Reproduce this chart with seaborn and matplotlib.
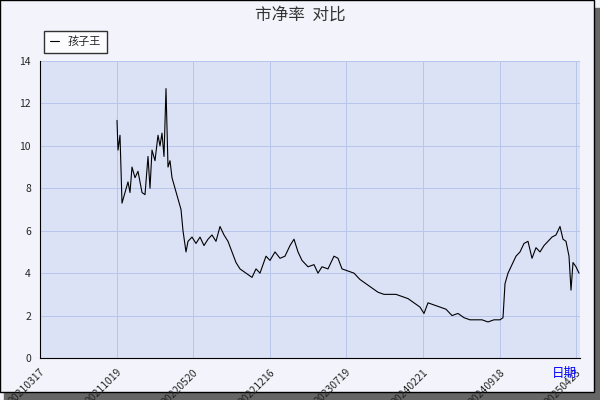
import matplotlib
matplotlib.use("Agg")
import matplotlib.pyplot as plt
import seaborn as sns
import pandas as pd
from matplotlib.patches import Rectangle

tick_labels = ["20210317","20211019","20220520","20221216","20230719","20240221","20240918","20250423"]
tick_days = [0,154,306,460,612,766,920,1072]
px = [117,118,120,122,125,128,130,132,135,138,142,145,148,150,152,155,158,160,162,164,166,168,170,172,175,178,181,183,186,188,192,196,200,204,208,212,216,220,224,228,232,236,240,246,252,256,260,266,270,275,280,285,290,294,298,302,308,314,318,322,328,334,338,342,348,354,360,366,372,378,384,390,396,402,408,414,420,424,428,434,440,446,452,458,464,470,476,482,488,494,500,503,505,508,512,516,520,524,528,532,536,540,544,548,552,556,560,563,566,569,571,573,576,579]
days = [2*(p-40) for p in px]
pb = [11.2,9.8,10.5,7.3,7.8,8.3,7.8,9.0,8.5,8.8,7.8,7.7,9.5,8.0,9.8,9.3,10.5,10.0,10.6,9.5,12.7,9.0,9.3,8.5,8.0,7.5,7.0,6.0,5.0,5.5,5.7,5.4,5.7,5.3,5.6,5.8,5.5,6.2,5.8,5.5,5.0,4.5,4.2,4.0,3.8,4.2,4.0,4.8,4.6,5.0,4.7,4.8,5.3,5.6,5.0,4.6,4.3,4.4,4.0,4.3,4.2,4.8,4.7,4.2,4.1,4.0,3.7,3.5,3.3,3.1,3.0,3.0,3.0,2.9,2.8,2.6,2.4,2.1,2.6,2.5,2.4,2.3,2.0,2.1,1.9,1.8,1.8,1.8,1.7,1.8,1.8,1.9,3.5,4.0,4.4,4.8,5.0,5.4,5.5,4.7,5.2,5.0,5.3,5.5,5.7,5.8,6.2,5.6,5.5,4.8,3.2,4.5,4.3,4.0]
df = pd.DataFrame({"day": days, "pb": pb, "name": "孩子王"})

sns.set_style("whitegrid")
plt.rcParams['font.family'] = ['Noto Sans CJK SC', 'DejaVu Sans']
fig = plt.figure(figsize=(6,4), dpi=100, facecolor="#f3f4fb")
fig.patches.append(Rectangle((4/600, 0), 596/600, 392/400, transform=fig.transFigure, color="#666666", zorder=-2))
fig.patches.append(Rectangle((0, 8/400), 594/600, 392/400, transform=fig.transFigure, facecolor="#f3f4fb", edgecolor="black", linewidth=1, zorder=-1))
ax = fig.add_axes([40/600, 42/400, 540/600, 297/400])
ax.set_facecolor("#dce2f6")
sns.lineplot(data=df, x="day", y="pb", hue="name", palette=["black"], linewidth=0.8, ax=ax)
ax.set_xlim(0, 1080); ax.set_ylim(0, 14)
ax.set_xticks(tick_days)
ax.set_xticklabels(tick_labels, rotation=45, ha="right", va="top", rotation_mode="anchor", fontsize=6.5)
ax.set_yticks(range(0,15,2)); ax.tick_params(labelsize=7.5, length=3)
ax.grid(color="#b8c6ec", linewidth=0.7)
for s in ax.spines.values(): s.set_color("black"); s.set_linewidth(0.8)
ax.spines['top'].set_visible(False); ax.spines['right'].set_visible(False)
ax.set_xlabel(""); ax.set_ylabel("")
fig.text(577/600, 1-377/400, "日期", color="blue", fontsize=9, ha="right")
fig.text(300/600, 1-15/400, "市净率  对比", fontsize=12, ha="center", va="center", color="#333333")
leg = ax.legend(loc="upper left", bbox_to_anchor=(-0.002, 1.12), frameon=True, fancybox=False,
                fontsize=8, handlelength=0.8, borderpad=0.5)
leg.get_frame().set_edgecolor("black"); leg.set_title(None)
fig.savefig("out.png", dpi=100, facecolor=fig.get_facecolor())
